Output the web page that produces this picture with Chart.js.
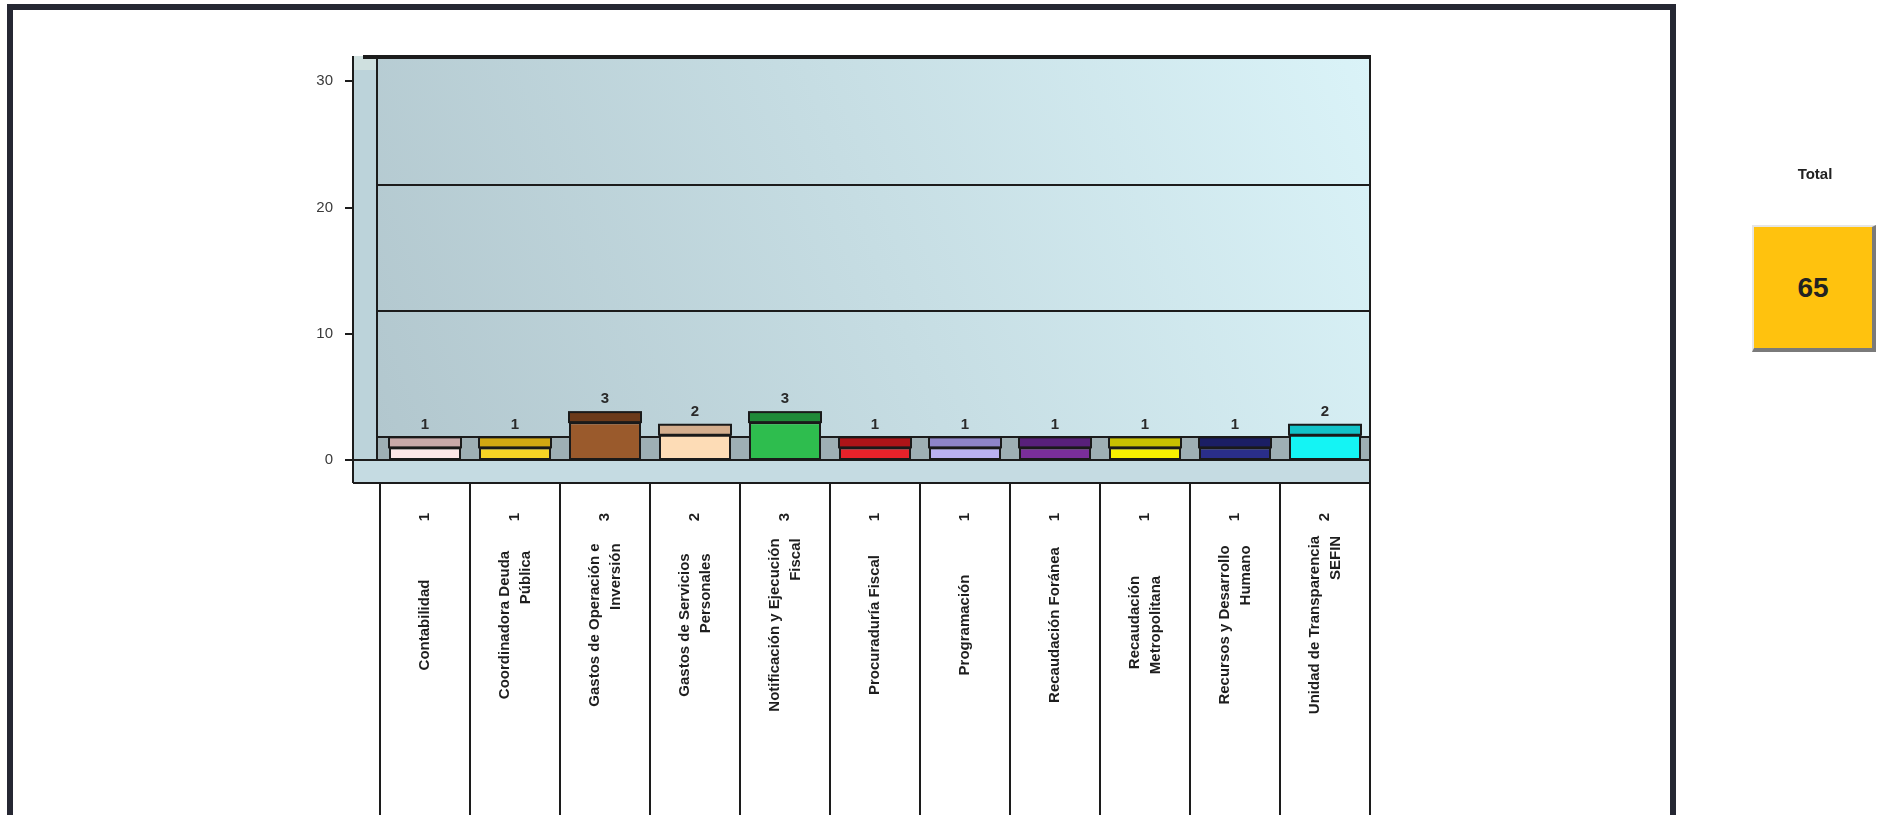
<!DOCTYPE html>
<html>
<head>
<meta charset="utf-8">
<script src="https://cdn.jsdelivr.net/npm/chart.js@4.4.1/dist/chart.umd.min.js"></script>
<style>
    html, body { margin: 0; padding: 0; width: 1881px; height: 815px; overflow: hidden; background: #fff; }
    #frame { position: absolute; left: 7px; top: 4px; width: 1657px; height: 900px; border: 6px solid #262833; }
    #chartCanvas { position: absolute; left: 0; top: 0; }
    #totalLabel { position: absolute; left: 1752px; top: 165px; width: 126px; text-align: center;
        font: bold 15px "Liberation Sans", Arial, sans-serif; color: #222; }
    #totalBox { position: absolute; left: 1752px; top: 225px; width: 118px; height: 121px;
        background: #ffc20e; border-top: 2px solid #e6e6e6; border-left: 2px solid #e6e6e6;
        border-right: 4px solid #7a7a7a; border-bottom: 4px solid #7a7a7a;
        display: flex; align-items: center; justify-content: center;
        font: bold 28px "Liberation Sans", Arial, sans-serif; color: #222; }
</style>
</head>
<body>
<div id="frame"></div>
<canvas id="chartCanvas" width="1881" height="815"></canvas>
<div id="totalLabel">Total</div>
<div id="totalBox"><span id="totalValue">65</span></div>

<script>
// Data
const categories = [
    ['Contabilidad'],
    ['Coordinadora Deuda', 'Pública'],
    ['Gastos de Operación e', 'Inversión'],
    ['Gastos de Servicios', 'Personales'],
    ['Notificación y Ejecución', 'Fiscal'],
    ['Procuraduría Fiscal'],
    ['Programación'],
    ['Recaudación Foránea'],
    ['Recaudación', 'Metropolitana'],
    ['Recursos y Desarrollo', 'Humano'],
    ['Unidad de Transparencia', 'SEFIN']
];
const values = [1, 1, 3, 2, 3, 1, 1, 1, 1, 1, 2];
const frontColors = ['#fce6e6', '#f6d325', '#9a5a2c', '#fddcb6', '#2ebd4e', '#e8222a',
    '#bab0f0', '#7a2e9a', '#f8f000', '#2a2e8a', '#14f4f4'];
const topColors = ['#c9a9a9', '#d2a812', '#6c3a1a', '#d4ae8e', '#1f8a38', '#ae1418',
    '#8e84c8', '#58207a', '#c8c000', '#1b1e64', '#12c2c8'];
const yMax = 32;
const yStep = 10;

const DEPTH = 23;     // 3D depth offset in px
const TOPFACE = 10;   // height of the bar top face

// 3D walls, floor and data table
const wallPlugin = {
    id: 'wall3d',
    beforeDraw(chart) {
        const { ctx, chartArea: a, scales: { x, y } } = chart;
        const sideL = a.left - 27;
        const backL = a.left - 3;
        const floorY = y.getPixelForValue(0);
        const backBottom = floorY - DEPTH;
        const tableTop = floorY + DEPTH;
        const n = categories.length;
        ctx.save();

        // side wall
        ctx.fillStyle = '#bcd3da';
        ctx.fillRect(sideL, a.top, backL - sideL, tableTop - a.top);
        ctx.fillStyle = '#cfe0df';
        ctx.fillRect(sideL, a.top, backL - sideL, 14);

        // back wall
        const g = ctx.createLinearGradient(backL, backBottom, a.right, a.top);
        g.addColorStop(0, '#b2c7ce');
        g.addColorStop(1, '#daf3f8');
        ctx.fillStyle = g;
        ctx.fillRect(backL, a.top, a.right - backL, backBottom - a.top);

        // floor
        ctx.fillStyle = '#9eafb4';
        ctx.fillRect(backL, backBottom, a.right - backL, DEPTH);

        // front band
        ctx.fillStyle = '#c5dbe2';
        ctx.fillRect(sideL, floorY, a.right - sideL, DEPTH);

        ctx.strokeStyle = '#1c1c1c';
        ctx.lineWidth = 2;
        ctx.beginPath();
        // back wall gridlines
        y.ticks.forEach(t => {
            if (t.value > 0 && t.value < 30) {
                const py = Math.round(y.getPixelForValue(t.value) - DEPTH);
                ctx.moveTo(backL, py);
                ctx.lineTo(a.right, py);
            }
        });
        ctx.moveTo(backL, backBottom);
        ctx.lineTo(a.right, backBottom);
        // side wall edges
        ctx.moveTo(sideL, a.top);
        ctx.lineTo(sideL, tableTop);
        ctx.moveTo(backL, a.top);
        ctx.lineTo(backL, floorY);
        ctx.moveTo(a.right, a.top);
        ctx.lineTo(a.right, tableTop);
        // front floor edge and table top
        ctx.moveTo(sideL - 8, floorY);
        ctx.lineTo(a.right, floorY);
        ctx.moveTo(sideL, tableTop);
        ctx.lineTo(a.right, tableTop);
        // tick marks
        y.ticks.forEach(t => {
            const py = Math.round(y.getPixelForValue(t.value));
            ctx.moveTo(sideL - 8, py);
            ctx.lineTo(sideL, py);
        });
        // table column lines
        const colW = (a.right - a.left) / n;
        for (let i = 0; i <= n; i++) {
            const px = Math.round(a.left + i * colW);
            ctx.moveTo(px, tableTop);
            ctx.lineTo(px, chart.height);
        }
        ctx.stroke();

        // top edge
        ctx.lineWidth = 4;
        ctx.beginPath();
        ctx.moveTo(sideL + 10, a.top + 1);
        ctx.lineTo(a.right + 1, a.top + 1);
        ctx.stroke();

        // table text (rotated)
        ctx.fillStyle = '#1e1e1e';
        ctx.font = 'bold 15px "Liberation Sans", Arial, sans-serif';
        ctx.textBaseline = 'middle';
        const lineH = 21;
        categories.forEach((lines, i) => {
            const cx = x.getPixelForValue(i);
            ctx.save();
            ctx.translate(cx, tableTop + 34);
            ctx.rotate(-Math.PI / 2);
            ctx.textAlign = 'center';
            ctx.fillText(String(values[i]), 0, 0);
            ctx.restore();

            ctx.save();
            ctx.translate(cx, tableTop + 142);
            ctx.rotate(-Math.PI / 2);
            const w = Math.max(...lines.map(l => ctx.measureText(l).width));
            ctx.textAlign = 'right';
            lines.forEach((l, k) => {
                const ry = (k - (lines.length - 1) / 2) * lineH;
                ctx.fillText(l, w / 2, ry);
            });
            ctx.restore();
        });
        ctx.restore();
    },
    afterDatasetsDraw(chart) {
        const { ctx } = chart;
        const meta = chart.getDatasetMeta(0);
        ctx.save();
        meta.data.forEach((bar, i) => {
            const w = bar.width;
            const left = bar.x - w / 2;
            // top face
            ctx.fillStyle = topColors[i];
            ctx.fillRect(left, bar.y - TOPFACE, w, TOPFACE);
            ctx.strokeStyle = '#1a1a1a';
            ctx.lineWidth = 2;
            ctx.strokeRect(left, bar.y - TOPFACE, w, TOPFACE);
            // value label
            ctx.fillStyle = '#2a2a2a';
            ctx.font = 'bold 15px "Liberation Sans", Arial, sans-serif';
            ctx.textAlign = 'center';
            ctx.textBaseline = 'middle';
            ctx.fillText(String(values[i]), bar.x, bar.y - TOPFACE - 13);
        });
        ctx.restore();
    }
};

const ctx = document.getElementById('chartCanvas').getContext('2d');
const chart = new Chart(ctx, {
    type: 'bar',
    data: {
        labels: categories,
        datasets: [{
            data: values,
            backgroundColor: frontColors,
            borderColor: '#1a1a1a',
            borderWidth: 2,
            borderSkipped: false,
            barPercentage: 0.8,
            categoryPercentage: 1.0
        }]
    },
    options: {
        responsive: false,
        animation: false,
        devicePixelRatio: 1,
        layout: {
            padding: { left: 280, right: 511, top: 43, bottom: 355 }
        },
        plugins: {
            legend: { display: false },
            tooltip: { enabled: false }
        },
        scales: {
            x: { display: false },
            y: {
                min: 0,
                max: yMax,
                afterFit: function(scale) { scale.width = 100; },
                grid: { display: false, drawTicks: false },
                border: { display: false },
                ticks: {
                    stepSize: yStep,
                    includeBounds: false,
                    padding: 47,
                    color: '#3a3a3a',
                    font: { family: '"Liberation Sans", Arial, sans-serif', size: 15 },
                    callback: function(value) {
                        return value % yStep === 0 ? value : '';
                    }
                }
            }
        }
    },
    plugins: [wallPlugin]
});
</script>
</body>
</html>
